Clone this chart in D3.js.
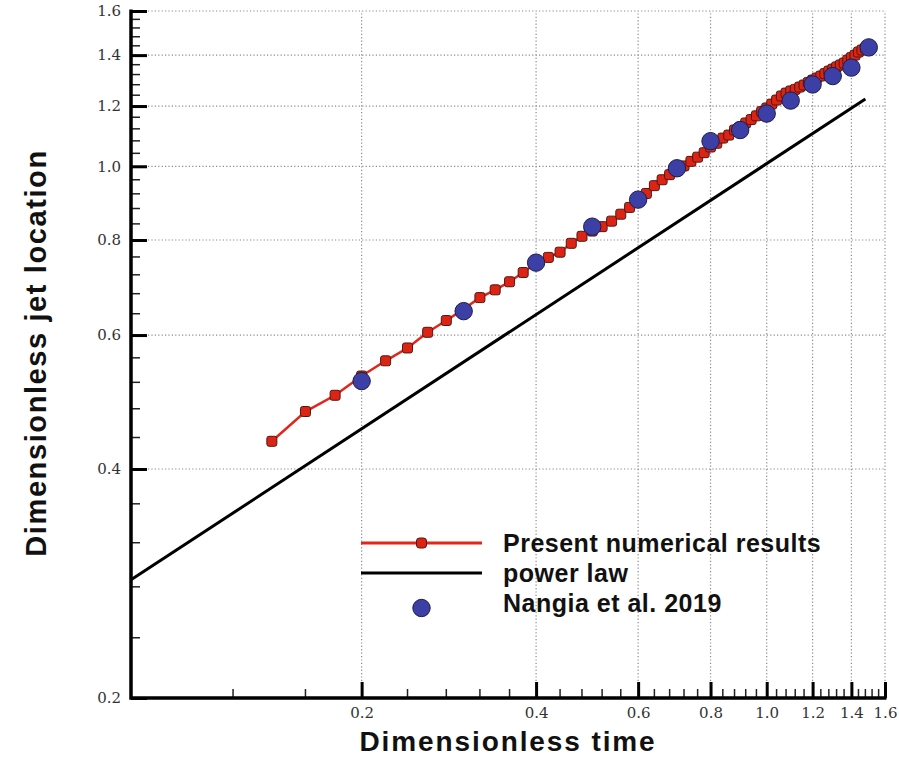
<!DOCTYPE html>
<html>
<head>
<meta charset="utf-8">
<script src="https://cdn.jsdelivr.net/npm/d3@7"></script>
<style>
  html, body { margin: 0; padding: 0; background: #fff; }
  svg { display: block; }
</style>
</head>
<body>
<svg id="chart" width="899" height="759"></svg>
<script>
// ---- data ----
const simT = [0.14,0.16,0.18,0.20,0.22,0.24,0.26,0.28,0.30,0.32,0.34,0.36,0.38,0.40,0.42,0.44,0.46,0.48,0.50,0.52,0.54,0.56,0.58,0.60,0.62,0.64,0.66,0.68,0.70,0.72,0.74,0.76,0.78,0.80,0.82,0.84,0.86,0.88,0.90,0.92,0.94,0.96,0.98,1.00,1.02,1.04,1.06,1.08,1.10,1.12,1.14,1.16,1.18,1.20,1.22,1.24,1.26,1.28,1.30,1.32,1.34,1.36,1.38,1.40,1.42,1.44,1.46,1.48,1.50];
const simY = [0.435,0.476,0.500,0.530,0.555,0.577,0.605,0.627,0.649,0.672,0.688,0.705,0.725,0.746,0.759,0.771,0.792,0.809,0.822,0.833,0.847,0.865,0.883,0.900,0.921,0.943,0.960,0.975,0.989,1.001,1.015,1.028,1.042,1.060,1.072,1.089,1.099,1.116,1.126,1.140,1.152,1.165,1.180,1.193,1.207,1.222,1.237,1.248,1.256,1.262,1.271,1.279,1.289,1.298,1.306,1.314,1.324,1.334,1.342,1.351,1.359,1.367,1.379,1.390,1.400,1.413,1.422,1.430,1.439];
const powerT = [0.08, 1.48];
const powerY = [0.286, 1.226];
const nangiaT = [0.2,0.3,0.4,0.5,0.6,0.7,0.8,0.9,1.0,1.1,1.2,1.3,1.4,1.5];
const nangiaY = [0.522,0.645,0.747,0.833,0.904,0.994,1.079,1.116,1.173,1.220,1.281,1.314,1.348,1.433];
const xMajor = [0.2,0.4,0.6,0.8,1.0,1.2,1.4,1.6];
const yMajor = [0.2,0.4,0.6,0.8,1.0,1.2,1.4,1.6];
const xDomain = [0.08, 1.6];
const yDomain = [0.2, 1.6];
const minorStep = 0.04;
const legendLabels = ["Present numerical results", "power law", "Nangia et al. 2019"];
const xTitle = "Dimensionless time";
const yTitle = "Dimensionless jet location";

// ---- layout ----
const svg = d3.select("#chart");
const L = 131, R = 885, T = 11, B = 698;
const x = d3.scaleLog().domain(xDomain).range([L, R]);
const y = d3.scaleLog().domain(yDomain).range([B, T]);

const isMajor = v => Math.abs(v / 0.2 - Math.round(v / 0.2)) < 1e-6;
const xMinor = d3.range(Math.round(xDomain[0]/minorStep), Math.round(xDomain[1]/minorStep)+1)
  .map(i => +(i*minorStep).toFixed(2)).filter(v => !isMajor(v) && v > xDomain[0] + 1e-9);
const yMinor = d3.range(Math.round(yDomain[0]/minorStep), Math.round(yDomain[1]/minorStep)+1)
  .map(i => +(i*minorStep).toFixed(2)).filter(v => !isMajor(v));

// grid
const grid = svg.append("g").attr("stroke", "#8a8a8a").attr("stroke-width", 1.2)
  .attr("stroke-dasharray", "1.2,2.2");
grid.selectAll("line.gx").data(xMajor).join("line")
  .attr("x1", d => x(d)).attr("x2", d => x(d)).attr("y1", B).attr("y2", T);
grid.selectAll("line.gy").data(yMajor.filter(d => d > yDomain[0])).join("line")
  .attr("x1", L).attr("x2", R).attr("y1", d => y(d)).attr("y2", d => y(d));

// power law
svg.append("path")
  .datum(powerT.map((t, i) => [t, powerY[i]]))
  .attr("fill", "none").attr("stroke", "#000").attr("stroke-width", 3)
  .attr("d", d3.line().x(d => x(d[0])).y(d => y(d[1])));

// simulation line + markers
const sim = simT.map((t, i) => [t, simY[i]]);
svg.append("path").datum(sim)
  .attr("fill", "none").attr("stroke", "#e3261a").attr("stroke-width", 2.5)
  .attr("d", d3.line().x(d => x(d[0])).y(d => y(d[1])));
const ms = 10;
svg.append("g").selectAll("rect").data(sim).join("rect")
  .attr("x", d => x(d[0]) - ms/2).attr("y", d => y(d[1]) - ms/2)
  .attr("width", ms).attr("height", ms).attr("rx", 2.2)
  .attr("fill", "#dd2314").attr("stroke", "#4a1a14").attr("stroke-width", 1);

// Nangia circles
svg.append("g").selectAll("circle").data(nangiaT.map((t, i) => [t, nangiaY[i]])).join("circle")
  .attr("cx", d => x(d[0])).attr("cy", d => y(d[1])).attr("r", 8.7)
  .attr("fill", "#3c40a6").attr("stroke", "#1c1c48").attr("stroke-width", 1);

// axes
const tickFont = "'DejaVu Serif', 'Liberation Serif', serif";
const xAxis = svg.append("g").attr("transform", `translate(0,${B})`)
  .call(d3.axisBottom(x).tickValues(xMajor).tickSize(-16).tickPadding(9)
    .tickFormat(d3.format(".1f")));
const yAxis = svg.append("g").attr("transform", `translate(${L},0)`)
  .call(d3.axisLeft(y).tickValues(yMajor).tickSize(-16).tickPadding(10)
    .tickFormat(d3.format(".1f")));
[xAxis, yAxis].forEach(g => {
  g.select(".domain").remove();
  g.selectAll(".tick line").attr("stroke", "#000").attr("stroke-width", 3);
  g.selectAll(".tick text").attr("font-family", tickFont).attr("font-size", 15)
    .attr("fill", "#333");
});
// minor ticks
svg.append("g").selectAll("line").data(xMinor).join("line")
  .attr("x1", d => x(d)).attr("x2", d => x(d)).attr("y1", B).attr("y2", B - 9)
  .attr("stroke", "#222").attr("stroke-width", 1.5);
svg.append("g").selectAll("line").data(yMinor).join("line")
  .attr("y1", d => y(d)).attr("y2", d => y(d)).attr("x1", L).attr("x2", L + 9)
  .attr("stroke", "#222").attr("stroke-width", 1.5);
// axis lines
svg.append("path").attr("d", `M${L},${T - 1.5}V${B}H${R + 1.5}`)
  .attr("fill", "none").attr("stroke", "#000").attr("stroke-width", 3.5);

// titles
const titleFont = "'Liberation Sans', Arial, sans-serif";
svg.append("text").attr("x", 508).attr("y", 751).attr("text-anchor", "middle")
  .attr("font-family", titleFont).attr("font-weight", "bold").attr("font-size", 28)
  .attr("letter-spacing", 1.9).attr("fill", "#111").text(xTitle);
svg.append("text").attr("transform", "translate(46,353) rotate(-90)")
  .attr("text-anchor", "middle")
  .attr("font-family", titleFont).attr("font-weight", "bold").attr("font-size", 29)
  .attr("letter-spacing", 1.6).attr("fill", "#111").text(yTitle);

// legend
const lg = svg.append("g");
const lx1 = 361, lx2 = 482, lmid = 421.5, ltx = 503;
const rows = [543, 573, 608];
lg.append("line").attr("x1", lx1).attr("x2", lx2).attr("y1", rows[0]).attr("y2", rows[0])
  .attr("stroke", "#e3261a").attr("stroke-width", 3);
lg.append("rect").attr("x", lmid - 5).attr("y", rows[0] - 5).attr("width", 10).attr("height", 10)
  .attr("rx", 3).attr("fill", "#dd2314").attr("stroke", "#4a1a14").attr("stroke-width", 1);
lg.append("line").attr("x1", lx1).attr("x2", lx2).attr("y1", rows[1]).attr("y2", rows[1])
  .attr("stroke", "#000").attr("stroke-width", 3);
lg.append("circle").attr("cx", lmid).attr("cy", rows[2]).attr("r", 8.7)
  .attr("fill", "#3c40a6").attr("stroke", "#1c1c48").attr("stroke-width", 1);
lg.selectAll("text").data(legendLabels).join("text")
  .attr("x", ltx).attr("y", (d, i) => [552, 582, 612][i])
  .attr("font-family", titleFont).attr("font-weight", "bold").attr("font-size", 25)
  .attr("letter-spacing", 0.5).attr("fill", "#111").text(d => d);
</script>
</body>
</html>
